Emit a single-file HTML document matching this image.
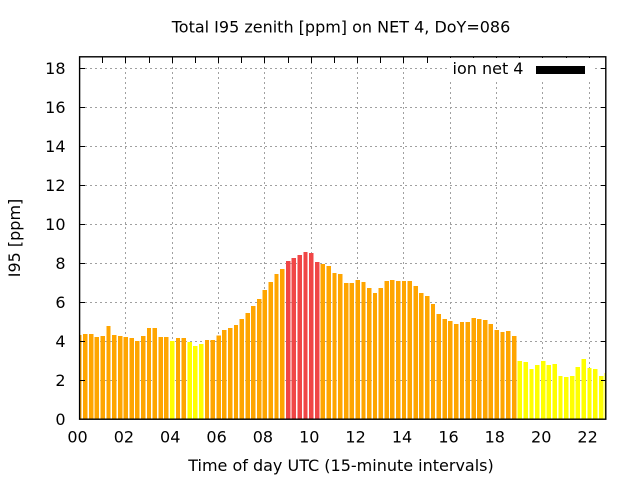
<!DOCTYPE html>
<html>
<head>
<meta charset="utf-8">
<style>
html,body{margin:0;padding:0;background:#fff;}
svg{display:block;}
text{font-family:"DejaVu Sans","Liberation Sans",sans-serif;font-size:16px;fill:#000;}
</style>
</head>
<body>
<svg width="640" height="480" viewBox="0 0 640 480" xmlns="http://www.w3.org/2000/svg">
<rect x="0" y="0" width="640" height="480" fill="#fff"/>
<defs>
<clipPath id="pa"><rect x="80" y="57" width="526" height="362"/></clipPath>
</defs>
<path stroke="#a0a0a0" stroke-width="1" stroke-dasharray="2,3" fill="none" shape-rendering="crispEdges"
 d="M80 380.5H606M80 341.5H606M80 302.5H606M80 263.5H606M80 224.5H606M80 185.5H606M80 146.5H606M80 107.5H606M80 68.5H606
 M125.5 57V419M172.5 57V419M218.5 57V419M264.5 57V419M311.5 57V419M357.5 57V419M403.5 57V419M450.5 57V419M496.5 57V419M542.5 57V419M589.5 57V419"/>
<g clip-path="url(#pa)">
<g transform="translate(79.5,419.2) scale(5.795,-19.5)" shape-rendering="crispEdges">
<path fill="#ffa500" d="M-.38 0h.76v4.32h-.76z M.62 0h.76v4.37h-.76z M1.62 0h.76v4.37h-.76z M2.62 0h.76v4.22h-.76z M3.62 0h.76v4.27h-.76z M4.62 0h.76v4.78h-.76z
M5.62 0h.76v4.32h-.76z M6.62 0h.76v4.27h-.76z M7.62 0h.76v4.22h-.76z M8.62 0h.76v4.17h-.76z M9.62 0h.76v4.02h-.76z M10.62 0h.76v4.27h-.76z
M11.62 0h.76v4.68h-.76z M12.62 0h.76v4.68h-.76z M13.62 0h.76v4.22h-.76z M14.62 0h.76v4.22h-.76z M16.62 0h.76v4.17h-.76z M17.62 0h.76v4.17h-.76z
M21.62 0h.76v4.07h-.76z M22.62 0h.76v4.07h-.76z M23.62 0h.76v4.29h-.76z M24.62 0h.76v4.58h-.76z M25.62 0h.76v4.68h-.76z M26.62 0h.76v4.84h-.76z
M27.62 0h.76v5.15h-.76z M28.62 0h.76v5.45h-.76z M29.62 0h.76v5.81h-.76z M30.62 0h.76v6.17h-.76z M31.62 0h.76v6.63h-.76z M32.62 0h.76v7.04h-.76z
M33.62 0h.76v7.45h-.76z M34.62 0h.76v7.71h-.76z M41.62 0h.76v7.97h-.76z M42.62 0h.76v7.86h-.76z M43.62 0h.76v7.5h-.76z M44.62 0h.76v7.45h-.76z
M45.62 0h.76v6.99h-.76z M46.62 0h.76v6.99h-.76z M47.62 0h.76v7.14h-.76z M48.62 0h.76v7.04h-.76z M49.62 0h.76v6.73h-.76z M50.62 0h.76v6.48h-.76z
M51.62 0h.76v6.73h-.76z M52.62 0h.76v7.09h-.76z M53.62 0h.76v7.14h-.76z M54.62 0h.76v7.09h-.76z M55.62 0h.76v7.09h-.76z M56.62 0h.76v7.09h-.76z
M57.62 0h.76v6.84h-.76z M58.62 0h.76v6.48h-.76z M59.62 0h.76v6.32h-.76z M60.62 0h.76v5.91h-.76z M61.62 0h.76v5.4h-.76z M62.62 0h.76v5.14h-.76z
M63.62 0h.76v5.04h-.76z M64.62 0h.76v4.89h-.76z M65.62 0h.76v4.99h-.76z M66.62 0h.76v4.99h-.76z M67.62 0h.76v5.19h-.76z M68.62 0h.76v5.14h-.76z
M69.62 0h.76v5.09h-.76z M70.62 0h.76v4.89h-.76z M71.62 0h.76v4.58h-.76z M72.62 0h.76v4.48h-.76z M73.62 0h.76v4.53h-.76z M74.62 0h.76v4.27h-.76z"/>
<path fill="#ffff00" d="M15.62 0h.76v4.02h-.76z M18.62 0h.76v3.96h-.76z M19.62 0h.76v3.76h-.76z M20.62 0h.76v3.86h-.76z
M75.62 0h.76v2.99h-.76z M76.62 0h.76v2.94h-.76z M77.62 0h.76v2.58h-.76z M78.62 0h.76v2.78h-.76z M79.62 0h.76v2.99h-.76z M80.62 0h.76v2.78h-.76z
M81.62 0h.76v2.84h-.76z M82.62 0h.76v2.22h-.76z M83.62 0h.76v2.17h-.76z M84.62 0h.76v2.22h-.76z M85.62 0h.76v2.68h-.76z M86.62 0h.76v3.09h-.76z
M87.62 0h.76v2.63h-.76z M88.62 0h.76v2.58h-.76z M89.62 0h.76v2.22h-.76z M90.62 0h.76v2.37h-.76z"/>
<path fill="#f04646" d="M35.62 0h.76v8.12h-.76z M36.62 0h.76v8.27h-.76z M37.62 0h.76v8.43h-.76z M38.62 0h.76v8.58h-.76z M39.62 0h.76v8.53h-.76z M40.62 0h.76v8.07h-.76z"/>
</g>
</g>
<path stroke="#000" stroke-width="1" fill="none" shape-rendering="crispEdges"
 d="M80 380.5h5M80 341.5h5M80 302.5h5M80 263.5h5M80 224.5h5M80 185.5h5M80 146.5h5M80 107.5h5M80 68.5h5
 M601 380.5h5M601 341.5h5M601 302.5h5M601 263.5h5M601 224.5h5M601 185.5h5M601 146.5h5M601 107.5h5M601 68.5h5"/>
<path stroke="#000" stroke-width="1" fill="none" shape-rendering="crispEdges"
 d="M102.5 57v6M125.5 57v6M149.5 57v6M172.5 57v6M195.5 57v6M218.5 57v6M241.5 57v6M264.5 57v6M288.5 57v6M311.5 57v6M334.5 57v6
 M357.5 57v6M380.5 57v6M403.5 57v6M427.5 57v6M450.5 57v6M473.5 57v6M496.5 57v6M519.5 57v6M542.5 57v6M566.5 57v6M589.5 57v6"/>
<rect x="447" y="58" width="145" height="22" fill="#fff"/>
<text x="452.5" y="74">ion net 4</text>
<rect x="536" y="66" width="49" height="8" fill="#000"/>
<rect x="79.6" y="56.8" width="526.2" height="362.4" fill="none" stroke="#000" stroke-width="1.4"/>
<g text-anchor="end">
<text x="65.5" y="425">0</text>
<text x="65.5" y="386">2</text>
<text x="65.5" y="347">4</text>
<text x="65.5" y="308">6</text>
<text x="65.5" y="269">8</text>
<text x="65.5" y="230">10</text>
<text x="65.5" y="191">12</text>
<text x="65.5" y="152">14</text>
<text x="65.5" y="113">16</text>
<text x="65.5" y="74">18</text>
</g>
<g text-anchor="middle">
<text x="77.5" y="442.5">00</text>
<text x="123.9" y="442.5">02</text>
<text x="170.2" y="442.5">04</text>
<text x="216.6" y="442.5">06</text>
<text x="262.9" y="442.5">08</text>
<text x="309.3" y="442.5">10</text>
<text x="355.6" y="442.5">12</text>
<text x="402" y="442.5">14</text>
<text x="448.5" y="442.5">16</text>
<text x="494.8" y="442.5">18</text>
<text x="541.2" y="442.5">20</text>
<text x="587.6" y="442.5">22</text>
</g>
<text x="341" y="32.5" text-anchor="middle">Total I95 zenith [ppm] on NET 4, DoY=086</text>
<text x="341" y="471" text-anchor="middle">Time of day UTC (15-minute intervals)</text>
<text transform="translate(20,238) rotate(-90)" text-anchor="middle">I95 [ppm]</text>
</svg>
</body>
</html>
